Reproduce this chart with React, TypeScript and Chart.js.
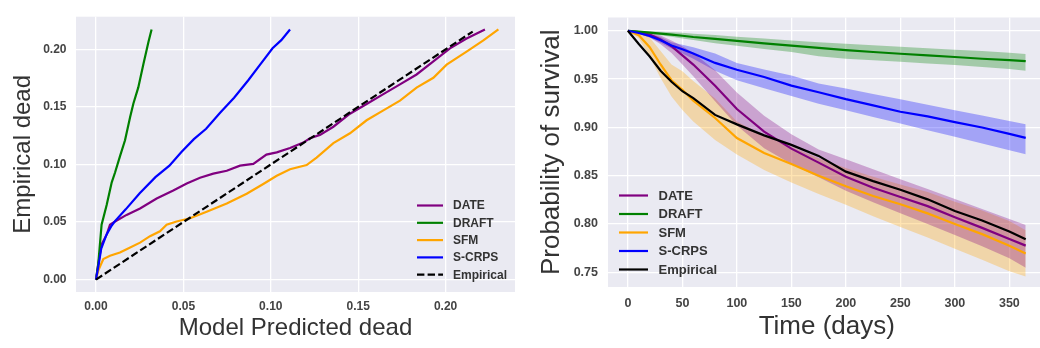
import React, { useEffect, useRef } from 'react';
import { Chart, registerables } from 'chart.js';

Chart.register(...registerables);

// ---------- Left panel: calibration (Model Predicted dead vs Empirical dead) ----------
const calibXTicks = [0, 0.05, 0.1, 0.15, 0.2];
const calibYTicks = [0, 0.05, 0.1, 0.15, 0.2];

const dateCalX = [0, 0.0013, 0.0032, 0.0061, 0.008, 0.0109, 0.0175, 0.0252, 0.0347, 0.0442, 0.0519, 0.0595, 0.0671, 0.0748, 0.0824, 0.09, 0.0975, 0.1034, 0.111, 0.1186, 0.1224, 0.1281, 0.1358, 0.1453, 0.1548, 0.1644, 0.1739, 0.1834, 0.193, 0.2025, 0.212, 0.2225];
const dateCalY = [0, 0.0136, 0.0306, 0.039, 0.0477, 0.0505, 0.0562, 0.0618, 0.0704, 0.0774, 0.0835, 0.0885, 0.092, 0.0945, 0.099, 0.1005, 0.1086, 0.1105, 0.1143, 0.119, 0.1228, 0.1257, 0.1328, 0.1441, 0.1526, 0.1611, 0.1696, 0.1782, 0.1895, 0.2009, 0.2094, 0.2173];

const draftCalX = [0, 0.0013, 0.0032, 0.0061, 0.009, 0.0109, 0.0137, 0.0166, 0.0195, 0.0214, 0.0242, 0.0271, 0.03, 0.0318];
const draftCalY = [0, 0.0136, 0.0477, 0.0647, 0.0845, 0.093, 0.107, 0.121, 0.141, 0.153, 0.167, 0.187, 0.2065, 0.2173];

const sfmCalX = [0, 0.0013, 0.0042, 0.008, 0.0137, 0.0175, 0.0252, 0.0309, 0.0366, 0.0404, 0.0461, 0.0538, 0.0633, 0.0748, 0.0862, 0.0957, 0.1034, 0.111, 0.1205, 0.1262, 0.1358, 0.1453, 0.1548, 0.1644, 0.1739, 0.1834, 0.193, 0.2006, 0.212, 0.2216, 0.2302];
const sfmCalY = [0, 0.0079, 0.0179, 0.0207, 0.0235, 0.0264, 0.0321, 0.0377, 0.042, 0.0477, 0.0505, 0.0533, 0.059, 0.0661, 0.0746, 0.0831, 0.0902, 0.0959, 0.0995, 0.106, 0.1186, 0.1271, 0.1384, 0.147, 0.1555, 0.1668, 0.1753, 0.1867, 0.198, 0.2079, 0.2173];

const scrpsCalX = [0, 0.0013, 0.003, 0.006, 0.009, 0.011, 0.017, 0.025, 0.034, 0.042, 0.049, 0.056, 0.063, 0.071, 0.079, 0.087, 0.094, 0.101, 0.106, 0.111];
const scrpsCalY = [0, 0.011, 0.027, 0.039, 0.047, 0.051, 0.061, 0.075, 0.089, 0.099, 0.111, 0.122, 0.131, 0.145, 0.158, 0.173, 0.187, 0.201, 0.208, 0.2173];

const empiricalCalX = [0, 0.2155];
const empiricalCalY = [0, 0.2155];

// ---------- Right panel: survival curves ----------
const survXTicks = [0, 50, 100, 150, 200, 250, 300, 350];
const survYTicks = [0.75, 0.8, 0.85, 0.9, 0.95, 1.0];

const days = [0, 10, 20, 30, 40, 50, 60, 80, 100, 125, 150, 175, 200, 225, 250, 275, 300, 325, 350, 365];

const dateSurv = [1.0, 0.9985, 0.996, 0.991, 0.984, 0.9745, 0.965, 0.943, 0.919, 0.8955, 0.878, 0.8635, 0.849, 0.8375, 0.828, 0.8185, 0.807, 0.796, 0.7845, 0.7776];
const dateUpper = [1.0, 0.9995, 0.998, 0.995, 0.99, 0.984, 0.977, 0.959, 0.936, 0.912, 0.893, 0.877, 0.8671, 0.8567, 0.8464, 0.8361, 0.8258, 0.8154, 0.8051, 0.799];
const dateLower = [1.0, 0.997, 0.993, 0.986, 0.977, 0.965, 0.953, 0.927, 0.902, 0.8785, 0.862, 0.8485, 0.8345, 0.8225, 0.811, 0.8, 0.7885, 0.777, 0.7645, 0.7547];

const draftSurv = [1.0, 0.999, 0.998, 0.997, 0.996, 0.9948, 0.9935, 0.9915, 0.9896, 0.987, 0.9845, 0.9822, 0.98, 0.978, 0.9762, 0.9745, 0.9728, 0.971, 0.9695, 0.9685];
const draftUpper = [1.0, 0.9998, 0.9995, 0.999, 0.9985, 0.9978, 0.997, 0.9955, 0.9938, 0.992, 0.99, 0.988, 0.9865, 0.985, 0.9835, 0.982, 0.9803, 0.979, 0.9772, 0.976];
const draftLower = [1.0, 0.9985, 0.997, 0.9953, 0.9938, 0.992, 0.9905, 0.987, 0.9845, 0.981, 0.978, 0.9735, 0.971, 0.9695, 0.968, 0.966, 0.9645, 0.9625, 0.9605, 0.9586];

const sfmSurv = [1.0, 0.9954, 0.983, 0.9651, 0.9488, 0.939, 0.9276, 0.9097, 0.889, 0.8735, 0.862, 0.85, 0.839, 0.829, 0.8205, 0.811, 0.8, 0.7895, 0.7775, 0.7694];
const sfmUpper = [1.0, 0.999, 0.993, 0.979, 0.965, 0.958, 0.948, 0.93, 0.906, 0.891, 0.88, 0.868, 0.858, 0.849, 0.841, 0.833, 0.823, 0.814, 0.803, 0.7935];
const sfmLower = [1.0, 0.992, 0.973, 0.951, 0.932, 0.918, 0.906, 0.887, 0.872, 0.856, 0.843, 0.831, 0.82, 0.808, 0.797, 0.786, 0.7745, 0.763, 0.751, 0.7456];

const scrpsSurv = [1.0, 0.9977, 0.9945, 0.9902, 0.9847, 0.9808, 0.9765, 0.9667, 0.9596, 0.9521, 0.9432, 0.9364, 0.9292, 0.9227, 0.9162, 0.9113, 0.9054, 0.8999, 0.8933, 0.8891];
const scrpsUpper = [1.0, 0.999, 0.997, 0.9935, 0.988, 0.9856, 0.983, 0.9765, 0.9667, 0.96, 0.9537, 0.9455, 0.9401, 0.9345, 0.929, 0.9235, 0.9178, 0.9122, 0.9066, 0.9033];
const scrpsLower = [1.0, 0.997, 0.993, 0.9875, 0.9815, 0.9765, 0.971, 0.9586, 0.9488, 0.9406, 0.9325, 0.9245, 0.9177, 0.9108, 0.9039, 0.8971, 0.8902, 0.8833, 0.8764, 0.8723];

const empiricalSurv = [1.0, 0.9863, 0.9733, 0.9586, 0.9472, 0.9374, 0.9302, 0.9129, 0.9031, 0.8917, 0.8819, 0.8705, 0.8542, 0.8444, 0.8355, 0.8255, 0.8134, 0.8037, 0.7922, 0.7841];

const seriesLabels = ['DATE', 'DRAFT', 'SFM', 'S-CRPS', 'Empirical'];
const seriesColors = ['#800080', '#008000', '#FFA500', '#0000FF', '#000000'];
const bandColors = ['rgba(128,0,128,0.3)', 'rgba(0,128,0,0.3)', 'rgba(255,165,0,0.3)', 'rgba(0,0,255,0.3)'];

const FONT = '"Liberation Sans", Arial, Helvetica, sans-serif';
const DASH = [7.4, 3.2];

const pts = (xs: number[], ys: number[]) => xs.map((x, i) => ({ x, y: ys[i] }));

const bgPlugin = {
  id: 'plotBg',
  beforeDraw(chart: any) {
    const { ctx, chartArea } = chart;
    const { left, top, right, bottom } = chartArea;
    ctx.save();
    ctx.fillStyle = '#EAEAF2';
    ctx.fillRect(left, top, right - left, bottom - top);
    ctx.restore();
  },
};

function legendPlugin(opts: { x0: number; x1: number; tx: number; y0: number; dy: number; size: number; dashedLast: boolean }) {
  return {
    id: 'customLegend',
    afterDraw(chart: any) {
      const ctx = chart.ctx;
      ctx.save();
      ctx.font = `bold ${opts.size}px ${FONT}`;
      ctx.textBaseline = 'middle';
      ctx.textAlign = 'left';
      seriesLabels.forEach((label, i) => {
        const y = opts.y0 + i * opts.dy;
        ctx.beginPath();
        ctx.strokeStyle = seriesColors[i];
        ctx.lineWidth = 2.2;
        ctx.setLineDash(opts.dashedLast && i === seriesLabels.length - 1 ? DASH : []);
        ctx.moveTo(opts.x0, y);
        ctx.lineTo(opts.x1, y);
        ctx.stroke();
        ctx.setLineDash([]);
        ctx.fillStyle = '#333333';
        ctx.fillText(label, opts.tx, y + 0.5);
      });
      ctx.restore();
    },
  };
}

function makeAxis(o: {
  min: number; max: number; tickVals: number[]; fmt: (v: number) => string;
  size: number; fit: (s: any) => void; padding: number; tickSize: number;
  title: string; titleSize: number; titlePad: any;
}) {
  return {
    type: 'linear',
    min: o.min,
    max: o.max,
    afterBuildTicks: (s: any) => { s.ticks = o.tickVals.map((v) => ({ value: v })); },
    afterFit: o.fit,
    grid: { color: '#FFFFFF', lineWidth: 1.3, drawTicks: false },
    border: { display: false },
    ticks: {
      padding: o.padding,
      color: '#444444',
      font: { family: FONT, size: o.tickSize, weight: 'bold' },
      callback: (v: any) => o.fmt(Number(v)),
    },
    title: {
      display: true,
      text: o.title,
      color: '#333333',
      font: { family: FONT, size: o.titleSize },
      padding: o.titlePad,
    },
  };
}

function lineDs(label: string, data: any[], color: string, order: number, dash?: number[]) {
  return {
    label, data, borderColor: color, backgroundColor: color, borderWidth: 2.2,
    pointRadius: 0, tension: 0, fill: false, order, borderDash: dash || [],
  };
}

function bandDs(label: string, data: any[], color: string, fillTarget: any) {
  return {
    label, data, borderColor: 'rgba(0,0,0,0)', borderWidth: 0, backgroundColor: color,
    pointRadius: 0, tension: 0, fill: fillTarget, order: 10,
  };
}

function CalibrationChart() {
  const ref = useRef<HTMLCanvasElement>(null);
  useEffect(() => {
    const chart = new Chart(ref.current as HTMLCanvasElement, {
      type: 'line',
      data: {
        datasets: [
          lineDs('DATE', pts(dateCalX, dateCalY), seriesColors[0], 4),
          lineDs('DRAFT', pts(draftCalX, draftCalY), seriesColors[1], 3),
          lineDs('SFM', pts(sfmCalX, sfmCalY), seriesColors[2], 2),
          lineDs('S-CRPS', pts(scrpsCalX, scrpsCalY), seriesColors[3], 1),
          lineDs('Empirical', pts(empiricalCalX, empiricalCalY), seriesColors[4], 0, DASH),
        ] as any,
      },
      options: {
        animation: false,
        responsive: false,
        events: [],
        layout: { padding: { left: 0, top: 11, right: 5, bottom: 0 } },
        plugins: { legend: { display: false }, tooltip: { enabled: false } },
        scales: {
          x: makeAxis({
            min: -0.01144, max: 0.2397, tickVals: calibXTicks, fmt: (v) => v.toFixed(2),
            size: 0, fit: (s) => { s.height = 56; }, padding: 7.5, tickSize: 12,
            title: 'Model Predicted dead', titleSize: 24, titlePad: { top: 0, bottom: 5.6 },
          }),
          y: makeAxis({
            min: -0.0108, max: 0.2284, tickVals: calibYTicks, fmt: (v) => v.toFixed(2),
            size: 0, fit: (s) => { s.width = 76; }, padding: 9.5, tickSize: 12,
            title: 'Empirical dead', titleSize: 24, titlePad: { top: 8.6, bottom: 0 },
          }),
        } as any,
      },
      plugins: [bgPlugin, legendPlugin({ x0: 417, x1: 443, tx: 453, y0: 205.5, dy: 17.3, size: 12, dashedLast: true })],
    });
    return () => chart.destroy();
  }, []);
  return <canvas ref={ref} width={520} height={348} style={{ position: 'absolute', left: 0, top: 0, display: 'block' }} />;
}

function SurvivalChart() {
  const ref = useRef<HTMLCanvasElement>(null);
  useEffect(() => {
    const chart = new Chart(ref.current as HTMLCanvasElement, {
      type: 'line',
      data: {
        datasets: [
          bandDs('DATE upper', pts(days, dateUpper), bandColors[0], '+1'),
          bandDs('DATE lower', pts(days, dateLower), bandColors[0], false),
          bandDs('DRAFT upper', pts(days, draftUpper), bandColors[1], '+1'),
          bandDs('DRAFT lower', pts(days, draftLower), bandColors[1], false),
          bandDs('SFM upper', pts(days, sfmUpper), bandColors[2], '+1'),
          bandDs('SFM lower', pts(days, sfmLower), bandColors[2], false),
          bandDs('S-CRPS upper', pts(days, scrpsUpper), bandColors[3], '+1'),
          bandDs('S-CRPS lower', pts(days, scrpsLower), bandColors[3], false),
          lineDs('DATE', pts(days, dateSurv), seriesColors[0], 5),
          lineDs('DRAFT', pts(days, draftSurv), seriesColors[1], 4),
          lineDs('SFM', pts(days, sfmSurv), seriesColors[2], 3),
          lineDs('S-CRPS', pts(days, scrpsSurv), seriesColors[3], 2),
          lineDs('Empirical', pts(days, empiricalSurv), seriesColors[4], 1),
        ] as any,
      },
      options: {
        animation: false,
        responsive: false,
        events: [],
        layout: { padding: { left: 0, top: 2, right: 14.4, bottom: 0 } },
        plugins: { legend: { display: false }, tooltip: { enabled: false } },
        scales: {
          x: makeAxis({
            min: -18.25, max: 383.25, tickVals: survXTicks, fmt: (v) => String(Math.round(v)),
            size: 0, fit: (s) => { s.height = 61; }, padding: 8.8, tickSize: 12.5,
            title: 'Time (days)', titleSize: 26, titlePad: { top: 0, bottom: 5.4 },
          }),
          y: makeAxis({
            min: 0.7348, max: 1.0137, tickVals: survYTicks, fmt: (v) => v.toFixed(2),
            size: 0, fit: (s) => { s.width = 88; }, padding: 10, tickSize: 12.5,
            title: 'Probability of survival', titleSize: 26, titlePad: { top: 16.4, bottom: 0 },
          }),
        } as any,
      },
      plugins: [bgPlugin, legendPlugin({ x0: 99, x1: 128, tx: 138.5, y0: 195.5, dy: 18.5, size: 13, dashedLast: false })],
    });
    return () => chart.destroy();
  }, []);
  return <canvas ref={ref} width={540} height={348} style={{ position: 'absolute', left: 520, top: 0, display: 'block' }} />;
}

export default function App() {
  return (
    <div style={{ position: 'fixed', left: 0, top: 0, width: 1040, height: 348, overflow: 'hidden', background: '#FFFFFF' }}>
      <CalibrationChart />
      <SurvivalChart />
    </div>
  );
}
